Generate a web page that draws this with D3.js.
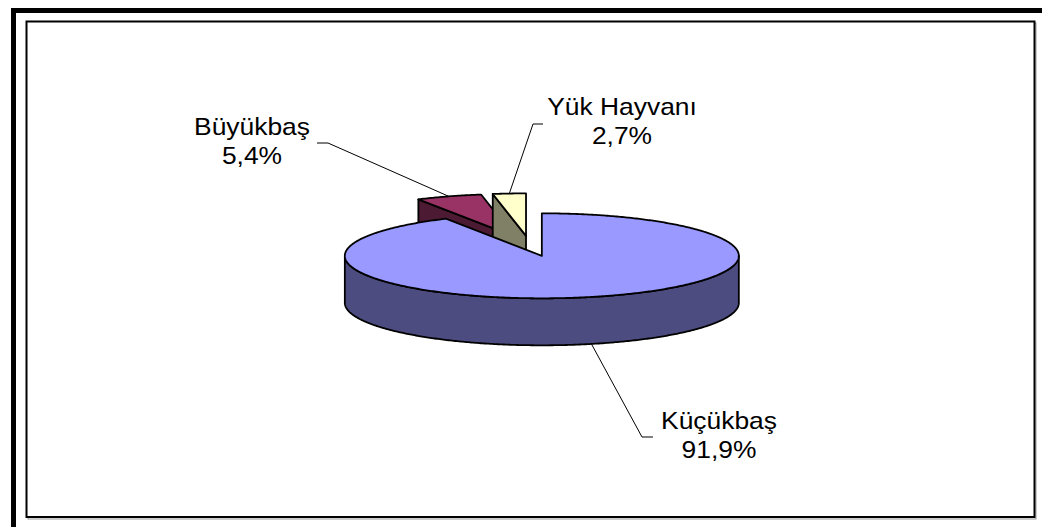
<!DOCTYPE html>
<html>
<head>
<meta charset="utf-8">
<script src="https://cdn.jsdelivr.net/npm/d3@7"></script>
<style>
  html, body { margin: 0; padding: 0; background: #fff; }
  svg { display: block; }
  text { font-family: "Liberation Sans", Arial, sans-serif; fill: #000; }
</style>
</head>
<body>
<svg id="chart" width="1042" height="527"></svg>
<script>
// Hayvan varlığının türlere göre dağılımı (%)
const categories = ["Küçükbaş", "Büyükbaş", "Yük Hayvanı"];
const values = [91.9, 5.4, 2.7];

const topColors  = ["#9999ff", "#993366", "#ffffcc"];
const sideColors = ["#4c4c80", "#4d1a33", "#808066"];

// Label anchor (centre of text block) and elbow of each leader line
const labelLayout = [
  { x: 719, y: 429, elbow: [642, 437], stub: [653, 437] },
  { x: 252, y: 135, elbow: [328, 143], stub: [317, 143] },
  { x: 622, y: 115, elbow: [533, 124], stub: [543, 124] }
];

const W = 1042, H = 527;
const svg = d3.select("#chart");

// Frame
svg.append("rect").attr("x", 11).attr("y", 8).attr("width", W - 11).attr("height", 5).attr("fill", "#000");
svg.append("rect").attr("x", 11).attr("y", 8).attr("width", 5).attr("height", H - 8).attr("fill", "#000");
svg.append("rect").attr("x", 28).attr("y", 23).attr("width", 1008).attr("height", 496)
  .attr("fill", "none").attr("stroke", "#999").attr("stroke-width", 1);
svg.append("rect").attr("x", 26.5).attr("y", 21.5).attr("width", 1008).attr("height", 495.5)
  .attr("fill", "#fff").attr("stroke", "#000").attr("stroke-width", 2);

// 3D pie geometry
const cx = 530, cy = 246;     // pie centre before explosion
const rx = 197, ry = 42.5;    // ellipse radii of the top face
const depth = 47;             // thickness
const explode = 47;           // explosion distance (in x units)

const pie = d3.pie().sort(null).startAngle(0).endAngle(2 * Math.PI);
const arcs = pie(values);

arcs.forEach(d => {
  const mid = (d.startAngle + d.endAngle) / 2;
  d.mid = mid;
  d.ox = cx + explode * Math.sin(mid);
  d.oy = cy - explode * (ry / rx) * Math.cos(mid);
});

const pt = (d, t, dz = 0) => [d.ox + rx * Math.sin(t), d.oy - ry * Math.cos(t) + dz];
const arcPts = (d, t0, t1, dz) => {
  const n = Math.max(2, Math.ceil(Math.abs(t1 - t0) / 0.01));
  return d3.range(n + 1).map(i => pt(d, t0 + (t1 - t0) * i / n, dz));
};
const line = d3.line();
const closed = pts => line(pts) + "Z";

const g = svg.append("g");
const strokeStyle = sel => sel.attr("stroke", "#000").attr("stroke-width", 1.8).attr("stroke-linejoin", "round");

// small slices (behind) first, the large front slice last
const order = arcs.filter(d => d.index > 0).concat(arcs.filter(d => d.index === 0));

order.forEach(d => {
  const i = d.index;
  const slice = g.append("g").attr("class", "slice");
  const apex = [d.ox, d.oy];
  const apexB = [d.ox, d.oy + depth];

  // radial walls facing the viewer
  const walls = [];
  if (Math.sin(d.startAngle) < -1e-6) walls.push(d.startAngle);
  if (Math.sin(d.endAngle) > 1e-6) walls.push(d.endAngle);
  walls.forEach(a => {
    slice.append("path")
      .attr("d", closed([apex, pt(d, a), pt(d, a, depth), apexB]))
      .attr("fill", sideColors[i]).call(strokeStyle);
  });

  // outer curved wall (front half only)
  const f0 = Math.max(d.startAngle, Math.PI / 2);
  const f1 = Math.min(d.endAngle, 3 * Math.PI / 2);
  if (f1 > f0) {
    const pts = arcPts(d, f0, f1, 0).concat(arcPts(d, f1, f0, depth));
    slice.append("path").attr("d", closed(pts))
      .attr("fill", sideColors[i]).call(strokeStyle);
  }

  // top face
  slice.append("path")
    .attr("d", closed([apex].concat(arcPts(d, d.startAngle, d.endAngle, 0))))
    .attr("fill", topColors[i]).call(strokeStyle);
});

// Leader lines and labels
const fmt = v => d3.format(".1f")(v).replace(".", ",") + "%";
arcs.forEach(d => {
  const L = labelLayout[d.index];
  const front = Math.cos(d.mid) < 0;
  const anchor = pt(d, d.mid, front ? depth : 0);
  g.append("path")
    .attr("d", line([anchor, L.elbow, L.stub]))
    .attr("fill", "none").attr("stroke", "#000").attr("stroke-width", 1);

  const t = g.append("g").attr("transform", `translate(${L.x},${L.y}) scale(1.1,1)`);
  t.append("text").attr("text-anchor", "middle").attr("font-size", 24)
    .text(categories[d.index]);
  t.append("text").attr("text-anchor", "middle").attr("font-size", 24).attr("y", 29.5)
    .text(fmt(values[d.index]));
});
</script>
</body>
</html>
